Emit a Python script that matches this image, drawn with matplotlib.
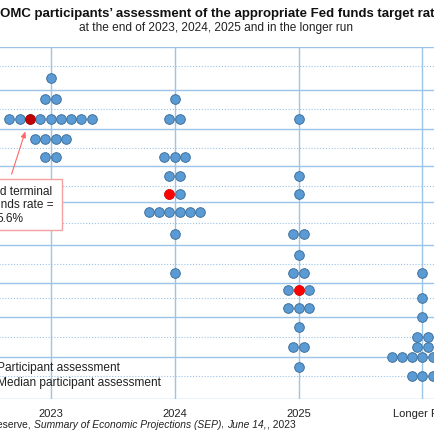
import numpy as np
import matplotlib
matplotlib.use("Agg")
import matplotlib.pyplot as plt
from matplotlib.patches import Rectangle

plt.rcParams['font.family'] = ['Liberation Sans', 'DejaVu Sans']

# Dot plot data: for each period, rate level -> number of participants
categories = ["2023", "2024", "2025", "Longer Run"]
rates_2023 = [6.125, 5.875, 5.625, 5.375, 5.125]
counts_2023 = [1, 2, 9, 4, 2]
rates_2024 = [5.875, 5.625, 5.125, 4.875, 4.625, 4.375, 4.125, 3.625]
counts_2024 = [1, 2, 3, 2, 2, 6, 1, 1]
rates_2025 = [5.625, 4.875, 4.625, 4.125, 3.875, 3.625, 3.375, 3.125, 2.875, 2.625, 2.375]
counts_2025 = [1, 1, 1, 2, 1, 2, 3, 3, 1, 2, 1]
rates_lr = [3.625, 3.25, 3.0, 2.75, 2.625, 2.5, 2.25]
counts_lr = [1, 1, 1, 2, 2, 7, 3]
# median: (rate, position of the median dot inside its row)
medians = [(5.625, 2), (4.625, 0), (3.375, 1), None]
median_colors = ["#C00000", "#FF0000", "#FF0000", None]

all_rates = [rates_2023, rates_2024, rates_2025, rates_lr]
all_counts = [counts_2023, counts_2024, counts_2025, counts_lr]

# the source chart's gridlines are not evenly spaced in pixels; this table
# lets the y scale follow them (level -> pixel row of its gridline)
grid_levels = np.arange(2.0, 6.51, 0.25)
grid_rows = np.array([400.3, 377.3, 358.3, 338.3, 318.3, 299.3, 283.5, 265.3, 246.0,
                      223.5, 203.3, 187.0, 167.2, 149.0, 130.2, 110.0, 90.5, 67.3, 47.7])

W = H = 435
fig = plt.figure(figsize=(W / 100, H / 100), dpi=100)


def fx(px):
    return px / W


def fy(py):
    return 1 - py / H


def y_fwd(v):
    return -np.interp(v, grid_levels, grid_rows)


def y_inv(u):
    return np.interp(-np.asarray(u), grid_rows[::-1], grid_levels[::-1])


# axes placed so the picture is a crop of a wider chart
x0_px, step_px = 50.5, 124.0
xlim = (-1, 4)
left = x0_px - step_px * (0 - xlim[0])
width = step_px * (xlim[1] - xlim[0])
top_px, bot_px = grid_rows[-1], grid_rows[0]
ax = fig.add_axes([fx(left), fy(bot_px), width / W, (bot_px - top_px) / H])
ax.set_yscale("function", functions=(y_fwd, y_inv))
ax.set_xlim(*xlim)
ax.set_ylim(2.0, 6.5)

grid_c = "#9DC3E6"
for v in np.arange(2.0, 6.51, 0.5):
    ax.axhline(v, color=grid_c, lw=1.0, zorder=1)
for v in np.arange(2.25, 6.5, 0.5):
    ax.axhline(v, color=grid_c, lw=0.8, ls=(0, (1.0, 1.6)), zorder=1)
for i in range(len(categories)):
    ax.axvline(i, color=grid_c, lw=1.0, zorder=1)

dx = 10.3 / step_px
for i, (rates, counts) in enumerate(zip(all_rates, all_counts)):
    xs, ys = [], []
    for r, n in zip(rates, counts):
        for k in range(n):
            xs.append(i + (k - (n - 1) / 2) * dx)
            ys.append(r)
    ax.scatter(xs, ys, s=48, color="#5B9BD5", edgecolor="#41719C",
               linewidth=0.7, zorder=3)
    if medians[i] is not None:
        r, pos = medians[i]
        n = counts[rates.index(r)]
        ax.scatter([i + (pos - (n - 1) / 2) * dx], [r], s=48,
                   color=median_colors[i], edgecolor=median_colors[i],
                   linewidth=0.7, zorder=4)

for s in ax.spines.values():
    s.set_visible(False)
ax.set_yticks([])
ax.set_yticks([], minor=True)
ax.set_xticks(range(len(categories)))
ax.set_xticklabels(categories, fontsize=8)
ax.tick_params(axis="x", length=0, pad=6, colors="#222222")

# annotation for median 2023
mr, mpos = medians[0]
mx = 0 + (mpos - (counts_2023[rates_2023.index(mr)] - 1) / 2) * dx
ax.annotate("", xy=(mx - 0.03, mr - 0.12), xytext=(mx - 0.155, mr - 0.76),
            arrowprops=dict(arrowstyle="-|>,head_length=0.35,head_width=0.15",
                            color="#FF6666", lw=0.8), zorder=5)
fig.add_artist(Rectangle((fx(-45), fy(230.7)), (61.7 + 45) / W, (230.7 - 180) / H,
                         transform=fig.transFigure, fill=True, fc="white",
                         ec="#F4A0A0", lw=1.0, zorder=6))
fig.text(fx(10), fy(205.5), "Implied terminal\nFed funds rate =\n5.6%",
         ha="center", va="center", fontsize=8.6, linespacing=1.2,
         color="#222222", zorder=7)

# legend text (markers fall outside the crop)
fig.text(fx(-3), fy(368.3), "Participant assessment", ha="left", va="center",
         fontsize=8.6, color="#222222")
fig.text(fx(-3), fy(383.3), "Median participant assessment", ha="left",
         va="center", fontsize=8.6, color="#222222")

# titles
fig.text(fx(216.5), fy(13.5),
         "FOMC participants\u2019 assessment of the appropriate Fed funds target rate",
         ha="center", va="center", fontsize=9.5, fontweight="bold", color="#111111")
fig.text(fx(216.5), fy(27.5), "at the end of 2023, 2024, 2025 and in the longer run",
         ha="center", va="center", fontsize=8.55, color="#222222")

# source line with italic parts
pieces = [("Source: Federal Reserve, ", "normal"),
          ("Summary of Economic Projections (SEP)", "italic"),
          (", ", "normal"), ("June 14,", "italic"), (", 2023", "normal")]
renderer = fig.canvas.get_renderer()
t = fig.text(fx(34), fy(425), pieces[0][0], ha="right", va="center",
             fontsize=7.4, color="#222222")
xpos = t.get_window_extent(renderer).x1
for txt, style in pieces[1:]:
    t = fig.text(xpos / W, fy(425), txt, ha="left", va="center", fontsize=7.4,
                 style=style, color="#222222")
    xpos = t.get_window_extent(renderer).x1

fig.savefig("out.png", dpi=100)
